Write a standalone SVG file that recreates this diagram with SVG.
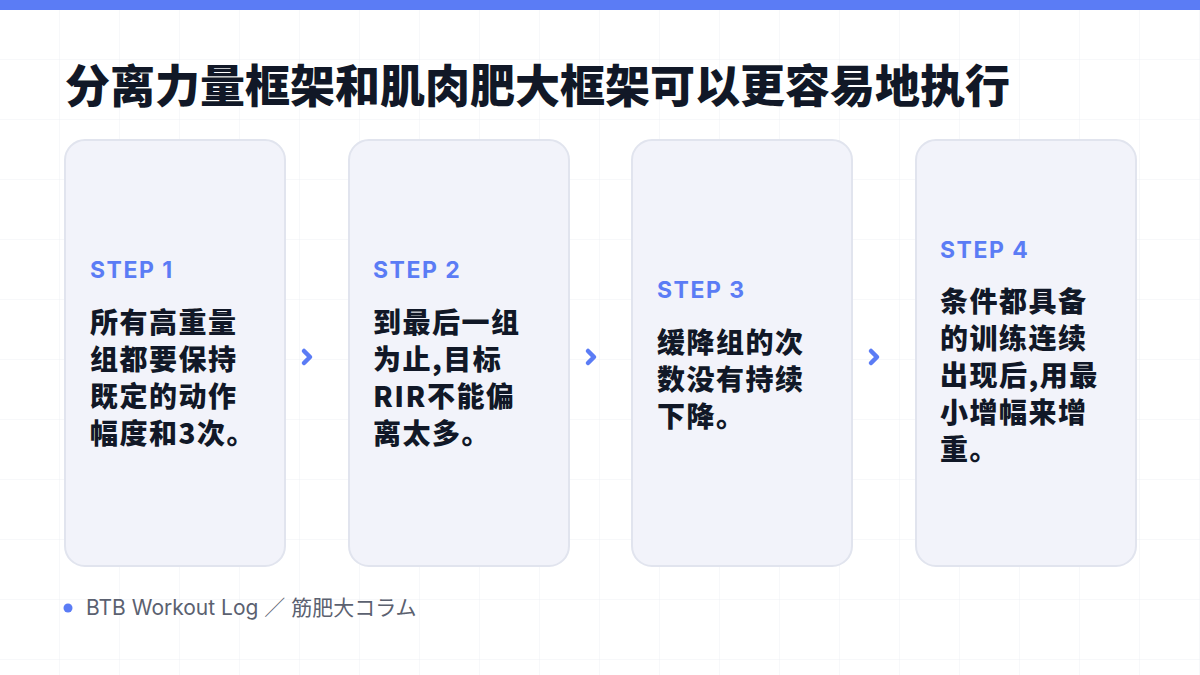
<svg xmlns="http://www.w3.org/2000/svg" width="1200" height="675" viewBox="0 0 1200 675">
<defs>
<pattern id="grid" width="60" height="60" patternUnits="userSpaceOnUse">
<path d="M60 0V60M0 60H60" fill="none" stroke="#eef0f4" stroke-width="1"/>
</pattern>
<style>
.card{fill:#f2f3fa;stroke:#e1e4ee;stroke-width:2}
.step{font-family:Inter,"Liberation Sans",sans-serif;font-weight:700;font-size:23px;letter-spacing:1.5px;fill:#5b7cf5}
.body{font-family:"Noto Sans CJK SC",sans-serif;font-weight:900;font-size:28px;letter-spacing:1.5px;fill:#111827}
.chev{fill:none;stroke:#5b7cf5;stroke-width:4.5;stroke-linecap:round;stroke-linejoin:round}
</style>
</defs>
<rect width="1200" height="675" fill="#ffffff"/>
<rect width="1200" height="675" fill="url(#grid)"/>
<rect width="1200" height="10" fill="#5b7cf5"/>
<text x="65" y="103" font-family="Noto Sans CJK SC,sans-serif" font-weight="900" font-size="45" fill="#111827">分离力量框架和肌肉肥大框架可以更容易地执行</text>
<g id="card1"><rect class="card" x="65" y="140" width="220" height="426" rx="20"/>
<text class="step" x="90" y="278">STEP 1</text>
<text class="body" x="90" y="333">所有高重量</text><text class="body" x="90" y="370">组都要保持</text><text class="body" x="90" y="407">既定的动作</text><text class="body" x="90" y="444">幅度和3次。</text></g>
<g id="card2"><rect class="card" x="349" y="140" width="220" height="426" rx="20"/>
<text class="step" x="373" y="278">STEP 2</text>
<text class="body" x="373" y="333">到最后一组</text><text class="body" x="373" y="370">为止,目标</text><text class="body" x="373" y="407">RIR不能偏</text><text class="body" x="373" y="444">离太多。</text></g>
<g id="card3"><rect class="card" x="632" y="140" width="220" height="426" rx="20"/>
<text class="step" x="657" y="298">STEP 3</text>
<text class="body" x="657" y="353">缓降组的次</text><text class="body" x="657" y="390">数没有持续</text><text class="body" x="657" y="427">下降。</text></g>
<g id="card4"><rect class="card" x="916" y="140" width="220" height="426" rx="20"/>
<text class="step" x="940" y="258">STEP 4</text>
<text class="body" x="940" y="312">条件都具备</text><text class="body" x="940" y="349">的训练连续</text><text class="body" x="940" y="386">出现后,用最</text><text class="body" x="940" y="423">小增幅来增</text><text class="body" x="940" y="460">重。</text></g>
<g id="connectors">
<path class="chev" d="M304 351L310 357L304 363"/>
<path class="chev" d="M588 351L594 357L588 363"/>
<path class="chev" d="M871 351L877 357L871 363"/>
</g>
<g id="footer">
<circle cx="68" cy="608" r="4.5" fill="#5b7cf5"/>
<text x="86" y="615" font-family="Inter,'Noto Sans CJK JP',sans-serif" font-size="21" fill="#5b6170">BTB Workout Log ／ 筋肥大コラム</text>
</g>
</svg>
